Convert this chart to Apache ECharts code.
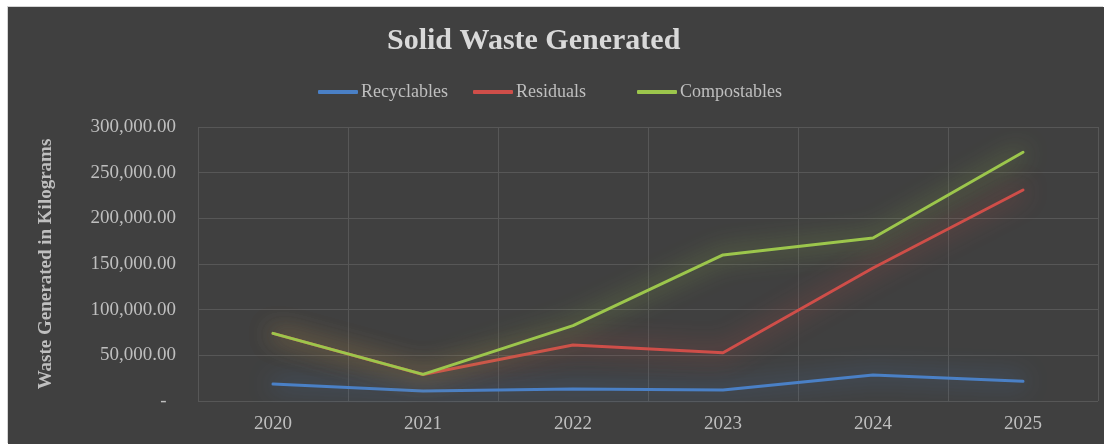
<!DOCTYPE html>
<html>
<head>
<meta charset="utf-8">
<script src="https://cdn.jsdelivr.net/npm/echarts@6/dist/echarts.min.js"></script>
<style>
  html, body { margin: 0; padding: 0; background: #ffffff; }
  #chart {
    position: absolute;
    left: 8px;
    top: 7px;
    width: 1096px;
    height: 437px;
    box-shadow: -1px -1px 0 #d4d4d4;
  }
</style>
</head>
<body>
<div id="chart"></div>
<script>
// data
const years = ['2020', '2021', '2022', '2023', '2024', '2025']
const recyclables = [18600, 11000, 13100, 12000, 28500, 21500]
const residuals = [74000, 29000, 61300, 52900, 145600, 231000]
const compostables = [74100, 29200, 82500, 159900, 178500, 272300]

const serif = '"Liberation Serif", "DejaVu Serif", serif'
const labelColor = '#bfbfbf'

const chart = echarts.init(document.getElementById('chart'))

// line with a soft glow, like the excel "glow" effect
const glowLine = (name, data, color, glow) => ({
  name,
  type: 'line',
  data,
  symbol: 'none',
  smooth: false,
  lineStyle: {
    width: 3,
    color,
    shadowBlur: 24,
    shadowColor: glow,
    cap: 'round',
  },
  itemStyle: { color },
})

const legendBase = {
  top: 71,
  itemWidth: 40,
  itemHeight: 4,
  itemGap: 0,
  icon: 'roundRect',
  textStyle: { color: labelColor, fontFamily: serif, fontSize: 18, padding: [0, 0, 0, -2] },
}

const option = {
  backgroundColor: '#404040',
  animation: false,
  title: {
    text: 'Solid Waste Generated',
    left: 374,
    top: 14,
    textStyle: {
      color: '#d9d9d9',
      fontFamily: serif,
      fontWeight: 'bold',
      fontSize: 30,
    },
  },
  legend: [
    { ...legendBase, left: 305, data: ['Recyclables'] },
    { ...legendBase, left: 460, data: ['Residuals'] },
    { ...legendBase, left: 624, data: ['Compostables'] },
  ],
  grid: {
    left: 190,
    top: 120,
    width: 900,
    height: 274,
    containLabel: false,
  },
  xAxis: {
    type: 'category',
    data: years,
    boundaryGap: true,
    axisLine: { show: false },
    axisTick: { show: false },
    axisLabel: {
      color: labelColor,
      fontFamily: serif,
      fontSize: 19,
      margin: 14,
    },
    splitLine: {
      show: true,
      interval: 0,
      lineStyle: { color: '#575757', width: 1 },
    },
  },
  yAxis: {
    type: 'value',
    min: 0,
    max: 300000,
    interval: 50000,
    name: 'Waste Generated in Kilograms',
    nameLocation: 'middle',
    nameGap: 142,
    nameTextStyle: {
      color: labelColor,
      fontFamily: serif,
      fontWeight: 'bold',
      fontSize: 19,
    },
    axisLine: { show: false },
    axisTick: { show: false },
    axisLabel: {
      color: labelColor,
      fontFamily: serif,
      fontSize: 19,
      margin: 22,
      formatter: (v) => v === 0 ? '-  ' : v.toLocaleString('en-US', { minimumFractionDigits: 2, maximumFractionDigits: 2 }),
    },
    splitLine: {
      lineStyle: { color: '#575757', width: 1 },
    },
  },
  series: [
    glowLine('Recyclables', recyclables, '#4a80c6', 'rgba(74, 128, 198, 1)'),
    glowLine('Residuals', residuals, '#cf4e49', 'rgba(207, 78, 73, 1)'),
    glowLine('Compostables', compostables, '#9cc64c', 'rgba(156, 198, 76, 1)'),
  ],
}

chart.setOption(option)
</script>
</body>
</html>
